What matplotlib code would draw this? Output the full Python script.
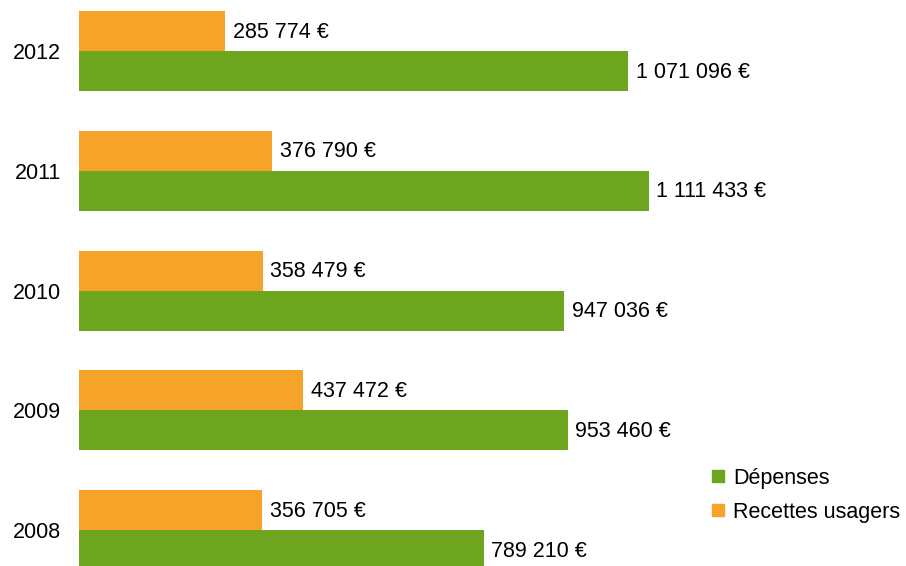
import matplotlib
matplotlib.use("Agg")
import matplotlib.pyplot as plt
from matplotlib.lines import Line2D
import numpy as np

years = ["2008", "2009", "2010", "2011", "2012"]
depenses = [789210, 953460, 947036, 1111433, 1071096]
recettes = [356705, 437472, 358479, 376790, 285774]

green = "#6EA51F"
orange = "#F5A329"

def fmt(v):
    return "{:,}".format(v).replace(",", " ") + " €"

plt.rcParams["font.family"] = ["Liberation Sans", "DejaVu Sans"]

fig = plt.figure(figsize=(9.06, 5.66), dpi=100)
ax = fig.add_axes([79 / 906, 0, 827 / 906, 1])

y = np.arange(len(years))
h = 0.334
ax.barh(y + h / 2, recettes, height=h, color=orange, label="Recettes usagers")
ax.barh(y - h / 2, depenses, height=h, color=green, label="Dépenses")

for i in range(len(years)):
    ax.text(recettes[i] + 15000, y[i] + h / 2 - 0.01, fmt(recettes[i]),
            va="center", ha="left", fontsize=15.5)
    ax.text(depenses[i] + 15000, y[i] - h / 2 - 0.01, fmt(depenses[i]),
            va="center", ha="left", fontsize=15.5)

ax.set_xlim(0, 827 / 0.0005126)
ax.set_ylim(-0.3006, 4.426)
ax.set_yticks(y)
ax.set_yticklabels(years, fontsize=15.5)
ax.tick_params(axis="y", length=0, pad=13)
ax.set_xticks([])
for s in ax.spines.values():
    s.set_visible(False)

handles = [Line2D([], [], marker="s", linestyle="none", color=green, markersize=8),
           Line2D([], [], marker="s", linestyle="none", color=orange, markersize=8)]
fig.legend(handles, ["Dépenses", "Recettes usagers"], loc="upper left",
           bbox_to_anchor=(701 / 906, 1 - 457 / 566), frameon=False, fontsize=15.5,
           handlelength=0.6, handletextpad=0.4, labelspacing=0.6, borderpad=0)

fig.savefig("out.png", dpi=100)
